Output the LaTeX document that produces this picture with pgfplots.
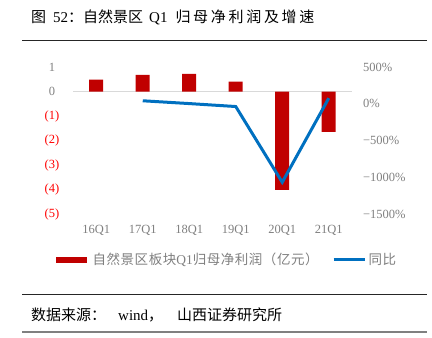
\documentclass[border=0pt]{standalone}
\usepackage{pgfplots}
\pgfplotsset{compat=1.18}
\usepackage{fontspec}
\setmainfont{Liberation Serif}
\newfontfamily\cjk{Noto Sans CJK SC}
\newfontfamily\cjkw[LetterSpace=18]{Noto Sans CJK SC}
\newfontfamily\cjkl[LetterSpace=4]{Noto Sans CJK SC}
\definecolor{barred}{HTML}{C00000}
\definecolor{lineblue}{HTML}{0070C0}
\definecolor{labgray}{HTML}{7F7F7F}
\definecolor{labred}{HTML}{FF0000}
\definecolor{zerogray}{HTML}{D9D9D9}
\begin{document}
\begin{tikzpicture}
\path[use as bounding box] (0,0) rectangle (432bp,338bp);
% title
\node[anchor=west, inner sep=0pt, font=\fontsize{15bp}{18bp}\selectfont] at (31bp,320.5bp) {{\cjk 图}\hspace{7bp}52{\cjk ：自然景区}\hspace{6bp}Q1\hspace{8bp}{\cjkw 归母净利润及增速}};
\draw[line width=0.9bp, black!85] (22bp,298bp) -- (427bp,298bp);
% source
\draw[line width=0.9bp, black!85] (22bp,43.7bp) -- (427bp,43.7bp);
\node[anchor=west, inner sep=0pt, font=\fontsize{15bp}{18bp}\selectfont] at (31bp,23bp) {{\cjk 数据来源：}\hspace{12bp}wind{\cjk ，}\hspace{14bp}{\cjk 山西证券研究所}};
\draw[line width=1.6bp, black!50] (22bp,5.7bp) -- (427bp,5.7bp);

\begin{axis}[
  at={(73bp,123.5bp)}, anchor=south west,
  scale only axis, width=279bp, height=147.5bp,
  xmin=-0.5, xmax=5.5, ymin=-5, ymax=1,
  axis line style={draw=none}, major tick length=0pt,
  xtick={0,1,2,3,4,5},
  xticklabels={16Q1,17Q1,18Q1,19Q1,20Q1,21Q1},
  xticklabel style={anchor=center, yshift=-15.5bp, text=labgray, font=\fontsize{12.5bp}{14bp}\selectfont},
  ytick={-5,-4,-3,-2,-1,0,1},
  yticklabels={\textcolor{labred}{(5)},\textcolor{labred}{(4)},\textcolor{labred}{(3)},\textcolor{labred}{(2)},\textcolor{labred}{(1)},0,1},
  yticklabel style={anchor=center, xshift=-21bp, text=labgray, font=\fontsize{12.5bp}{14bp}\selectfont},
  clip=false,
]
\addplot[draw=zerogray, line width=1bp] coordinates {(-0.5,0) (5.5,0)};
\addplot[ybar, bar width=14bp, fill=barred, draw=none] coordinates {
 (0,0.49) (1,0.68) (2,0.72) (3,0.41) (4,-4.0) (5,-1.64)};
\end{axis}

\begin{axis}[
  at={(73bp,123.5bp)}, anchor=south west,
  scale only axis, width=279bp, height=147.5bp,
  xmin=-0.5, xmax=5.5, ymin=-1500, ymax=500,
  axis x line=none, axis y line*=right,
  axis line style={draw=none}, major tick length=0pt,
  ytick={-1500,-1000,-500,0,500},
  yticklabels={−1500\%,−1000\%,−500\%,0\%,500\%},
  yticklabel style={anchor=west, inner sep=0pt, xshift=11bp, text=labgray, font=\fontsize{12.5bp}{14bp}\selectfont},
  legend style={at={(0.548,-0.308)}, anchor=center, draw=none, fill=none,
    legend columns=2, font=\fontsize{13.5bp}{15bp}\selectfont, text=labgray,
    /tikz/every even column/.append style={column sep=11bp},
    nodes={inner sep=2.5bp},
    inner sep=0pt},
  legend image code/.code={\draw[#1] (0bp,0bp) -- (31bp,0bp);},
  clip=false,
]
\addlegendimage{line width=6bp, barred}
\addlegendentry{\cjkl 自然景区板块{\rmfamily Q1}归母净利润（亿元）}
\addplot[lineblue, line width=3bp] coordinates {
 (1,42) (2,4) (3,-36) (4,-1063) (5,77)};
\addlegendentry{\cjkl 同比}
\end{axis}
\end{tikzpicture}
\end{document}
